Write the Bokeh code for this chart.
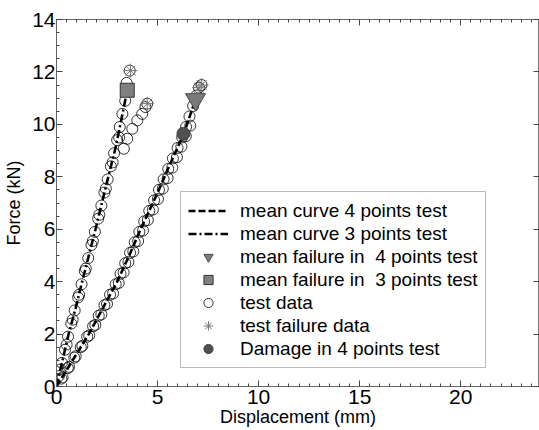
from bokeh.plotting import figure
from bokeh.models import (LinearAxis, SingleIntervalTicker, Legend, LegendItem,
                          ColumnDataSource)
from bokeh.embed import file_html
from bokeh.resources import INLINE

# ---- data (displacement in mm, force in kN) ----
mean4_x = [0.0, 0.8, 1.6, 2.3, 3.0, 3.6, 4.16, 4.98, 5.6, 6.3, 6.9]
mean4_y = [0.0, 1.0, 2.0, 3.0, 4.0, 5.0, 6.0, 7.35, 8.45, 9.64, 11.0]

mean3_x = [0.0, 0.3, 0.6, 0.95, 1.27, 1.6, 1.93, 2.5, 2.92, 3.2, 3.5]
mean3_y = [0.0, 1.0, 2.0, 3.0, 4.0, 5.0, 6.0, 7.8, 9.1, 10.15, 11.3]

# test data, 3 points bending specimens
test3_x = [0.12, 0.27, 0.42, 0.57, 0.73, 0.90, 1.07, 1.24, 1.40, 1.57, 1.73,
           1.90, 2.06, 2.22, 2.37, 2.53, 2.69, 2.85, 3.00, 3.13, 3.26, 3.40,
           3.47, 3.62,
           0.20, 0.50, 0.80, 1.12, 1.45, 1.80, 2.12, 2.44, 2.78, 3.10, 3.33,
           3.50, 3.75, 4.00, 4.24, 4.40, 4.49]
test3_y = [0.40, 0.90, 1.40, 1.90, 2.40, 2.90, 3.40, 3.90, 4.40, 4.90, 5.40,
           5.90, 6.40, 6.90, 7.40, 7.90, 8.40, 8.90, 9.40, 9.90, 10.40, 10.90,
           11.58, 12.05,
           0.65, 1.60, 2.55, 3.50, 4.50, 5.55, 6.55, 7.55, 8.55, 9.50, 9.07,
           9.45, 9.83, 10.15, 10.40, 10.66, 10.79]

# test data, 4 points bending specimens
test4_x = [0.24, 0.56, 0.88, 1.20, 1.52, 1.81, 2.09, 2.37, 2.65, 2.93, 3.17,
           3.40, 3.64, 3.87, 4.10, 4.34, 4.59, 4.83, 5.07, 5.30, 5.53, 5.76,
           5.99, 6.22, 6.41, 6.58, 6.76, 6.93, 7.05,
           0.30, 0.62, 0.95, 1.28, 1.62, 1.92, 2.22, 2.50, 2.80, 3.08, 3.32,
           3.56, 3.80, 4.04, 4.28, 4.52, 4.77, 5.02, 5.26, 5.50, 5.73, 5.96,
           6.18, 6.40, 6.62, 7.18]
test4_y = [0.30, 0.70, 1.10, 1.50, 1.90, 2.30, 2.70, 3.10, 3.50, 3.90, 4.30,
           4.70, 5.10, 5.50, 5.90, 6.30, 6.70, 7.10, 7.50, 7.90, 8.30, 8.70,
           9.10, 9.50, 9.90, 10.30, 10.70, 11.10, 11.40,
           0.35, 0.75, 1.15, 1.55, 1.95, 2.35, 2.75, 3.15, 3.55, 3.95, 4.35,
           4.75, 5.15, 5.55, 5.95, 6.35, 6.75, 7.15, 7.55, 7.95, 8.35, 8.75,
           9.15, 9.55, 9.95, 11.50]

fail_x = [3.66, 4.49, 7.05, 7.18]
fail_y = [12.05, 10.79, 11.40, 11.50]

mean_fail4_x, mean_fail4_y = [6.88], [10.95]
mean_fail3_x, mean_fail3_y = [3.50], [11.30]
damage4_x, damage4_y = [6.28], [9.64]

x_major = [0, 5, 10, 15, 20]
y_major = [0, 2, 4, 6, 8, 10, 12, 14]

FONT = "Liberation Sans"

p = figure(width=539, height=430, x_range=(0, 23.9), y_range=(0, 14),
           output_backend="svg", toolbar_location=None,
           min_border_left=56, min_border_right=0,
           min_border_top=19, min_border_bottom=44)
p.background_fill_color = "white"
p.border_fill_color = "white"
p.outline_line_color = "#777777"
p.xgrid.visible = False
p.ygrid.visible = False

p.xaxis.ticker = SingleIntervalTicker(interval=5, num_minor_ticks=10)
p.yaxis.ticker = SingleIntervalTicker(interval=2, num_minor_ticks=4)
p.xaxis.axis_label = "Displacement (mm)"
p.yaxis.axis_label = "Force (kN)"

for ax in (p.xaxis[0], p.yaxis[0]):
    ax.axis_line_color = "#666666"
    ax.major_tick_line_color = "#444444"
    ax.minor_tick_line_color = "#444444"
    ax.major_tick_in = 6
    ax.major_tick_out = 0
    ax.minor_tick_in = 3
    ax.minor_tick_out = 0
    ax.major_label_text_font = FONT
    ax.major_label_text_font_size = "21px"
    ax.major_label_text_color = "black"
    ax.axis_label_text_font = FONT
    ax.axis_label_text_font_size = "18px"
    ax.axis_label_text_font_style = "normal"
    ax.axis_label_text_color = "black"

p.xaxis.major_label_standoff = 3
p.xaxis.axis_label_standoff = 0
p.yaxis.major_label_standoff = 1
p.yaxis.axis_label_standoff = 5

# frame ticks on top and right, no labels
top = LinearAxis(ticker=SingleIntervalTicker(interval=5, num_minor_ticks=10),
                 major_label_overrides={v: "" for v in x_major})
right = LinearAxis(ticker=SingleIntervalTicker(interval=2, num_minor_ticks=0),
                   major_label_overrides={v: "" for v in y_major})
for ax in (top, right):
    ax.axis_line_color = "#666666"
    ax.major_tick_line_color = "#444444"
    ax.minor_tick_line_color = "#444444"
    ax.major_tick_in = 6
    ax.major_tick_out = 0
    ax.minor_tick_in = 3
    ax.minor_tick_out = 0
    ax.major_label_standoff = 0
p.add_layout(top, "above")
p.add_layout(right, "right")

# test data circles
src3 = ColumnDataSource(dict(x=test3_x, y=test3_y))
src4 = ColumnDataSource(dict(x=test4_x, y=test4_y))
r_test = p.scatter("x", "y", source=src3, marker="circle", size=11,
                   fill_color=None, line_color="black", line_width=0.8)
p.scatter("x", "y", source=src4, marker="circle", size=11,
          fill_color=None, line_color="black", line_width=0.8)

# mean curves
r_m4 = p.line(mean4_x, mean4_y, line_color="black", line_width=2.6,
              line_dash="7 3")
r_m3 = p.line(mean3_x, mean3_y, line_color="black", line_width=2.6,
              line_dash="8 3 2 3")

# failure / damage markers
r_f4 = p.scatter(mean_fail4_x, mean_fail4_y, marker="inverted_triangle",
                 size=20, fill_color="#7a7a7a", line_color="#4a4a4a",
                 line_width=1)
r_f3 = p.scatter(mean_fail3_x, mean_fail3_y, marker="square", size=14,
                 fill_color="#808080", line_color="#333333", line_width=1)
r_fail = p.scatter(fail_x, fail_y, marker="asterisk", size=14,
                   line_color="#777777", line_width=1)
r_dmg = p.scatter(damage4_x, damage4_y, marker="circle", size=13,
                  fill_color="#505050", line_color="#404040")

legend = Legend(items=[
    LegendItem(label="mean curve 4 points test", renderers=[r_m4]),
    LegendItem(label="mean curve 3 points test", renderers=[r_m3]),
    LegendItem(label="mean failure in  4 points test", renderers=[r_f4]),
    LegendItem(label="mean failure in  3 points test", renderers=[r_f3]),
    LegendItem(label="test data", renderers=[r_test]),
    LegendItem(label="test failure data", renderers=[r_fail]),
    LegendItem(label="Damage in 4 points test", renderers=[r_dmg]),
], location=(124, 18))
legend.label_text_font = FONT
legend.label_text_font_size = "19px"
legend.label_text_color = "black"
legend.label_height = 23
legend.glyph_height = 23
legend.glyph_width = 40
legend.label_standoff = 12
legend.spacing = 0
legend.padding = 7
legend.margin = 0
legend.border_line_color = "#777777"
legend.border_line_width = 1
legend.background_fill_color = "white"
legend.background_fill_alpha = 1.0
p.add_layout(legend, "center")

open("out.html", "w").write(file_html(p, INLINE))
